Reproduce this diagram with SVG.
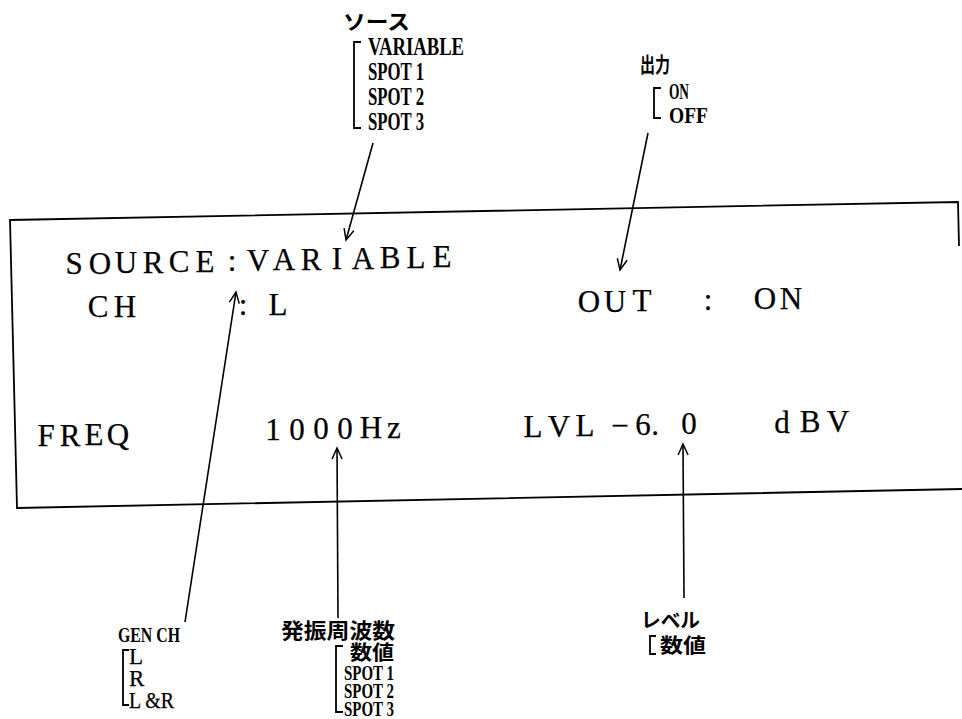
<svg xmlns="http://www.w3.org/2000/svg" width="962" height="719" viewBox="0 0 962 719">
<defs>
<style>
.main{font-family:"Liberation Serif",serif;font-size:31px;fill:#000;stroke:#000;stroke-width:0.25;text-anchor:middle}
.cond{font-family:"Liberation Serif",serif;font-size:25px;font-weight:bold;fill:#000}
.ser{font-family:"Liberation Serif",serif;font-size:23px;fill:#000;stroke:#000;stroke-width:0.25}
.jp{font-family:"Liberation Sans","Noto Sans CJK JP",sans-serif;font-size:21px;font-weight:bold;fill:#000}
.ln{fill:none;stroke:#000;stroke-width:1.6}
.br{fill:none;stroke:#000;stroke-width:1.8}
</style>
<marker id="ah" viewBox="-12 -6 14 12" refX="0" refY="0" markerWidth="14" markerHeight="12" orient="auto" markerUnits="userSpaceOnUse">
<path d="M-11,-5 L0,0 L-11,5" fill="none" stroke="#000" stroke-width="1.5"/>
</marker>
</defs>

<g id="display">
<path class="br" d="M959,246 L958,202 L10,220 L17,508 L962,489"/>
<text class="main" x="74 100 126 153 179 205 232 258 284 311 337 363 390 416 442" y="274 273.5 273 272.5 272 271.5 271 270.5 270 269.5 269 268.5 268 267.5 267">SOURCE:VARIABLE</text>
<text class="main" x="98 125 243 278" y="317 316.5 315 314.5">CH:L</text>
<text class="main" x="589 615 642 708 765 791" y="312 311.5 311 310 309 308.5">OUT:ON</text>
<text class="main" x="46 70 94 118" y="446 445.5 445 444.5">FREQ</text>
<text class="main" x="273 297 321 345 371 394" y="440 439.5 439 438.5 438 437.5">1000Hz</text>
<text class="main" x="533 559 585 620 643 655 689 782 810 838" y="437 436.5 436 435.5 435 435 434 432.5 432 431.5">LVL−6.0dBV</text>
</g>

<g id="source-label">
<text class="jp" x="343" y="29" textLength="67" lengthAdjust="spacingAndGlyphs">ソース</text>
<path class="br" d="M361,42 H354 V128 H361"/>
<text class="cond" x="368" y="55" textLength="96" lengthAdjust="spacingAndGlyphs">VARIABLE</text>
<text class="cond" x="368" y="80" textLength="56" lengthAdjust="spacingAndGlyphs">SPOT 1</text>
<text class="cond" x="368" y="105" textLength="56" lengthAdjust="spacingAndGlyphs">SPOT 2</text>
<text class="cond" x="368" y="130" textLength="56" lengthAdjust="spacingAndGlyphs">SPOT 3</text>
</g>

<g id="output-label">
<text class="jp" x="640" y="72" textLength="30" lengthAdjust="spacingAndGlyphs" style="font-size:21px">出力</text>
<path class="br" d="M661,88 H654 V118 H661"/>
<text class="cond" x="669" y="99" textLength="20" lengthAdjust="spacingAndGlyphs" style="font-size:24px">ON</text>
<text class="cond" x="669" y="123" textLength="39" lengthAdjust="spacingAndGlyphs" style="font-size:24px">OFF</text>
</g>

<g id="gench-label">
<text class="cond" x="118" y="642" textLength="62" lengthAdjust="spacingAndGlyphs" style="font-size:22px">GEN CH</text>
<path class="br" d="M129,650 H123 V705 H129"/>
<text class="ser" x="129" y="664">L</text>
<text class="ser" x="129" y="686">R</text>
<text class="ser" x="129" y="708" textLength="45" lengthAdjust="spacingAndGlyphs">L &amp;R</text>
</g>

<g id="freq-label">
<text class="jp" x="281" y="638" textLength="114" lengthAdjust="spacingAndGlyphs" style="font-size:21px">発振周波数</text>
<path class="br" d="M343,646 H336 V712 H343"/>
<text class="jp" x="350" y="660" textLength="44" lengthAdjust="spacingAndGlyphs" style="font-size:20px">数値</text>
<text class="cond" x="344" y="680" textLength="50" lengthAdjust="spacingAndGlyphs" style="font-size:20px">SPOT 1</text>
<text class="cond" x="344" y="698" textLength="50" lengthAdjust="spacingAndGlyphs" style="font-size:20px">SPOT 2</text>
<text class="cond" x="344" y="716" textLength="50" lengthAdjust="spacingAndGlyphs" style="font-size:20px">SPOT 3</text>
</g>

<g id="level-label">
<text class="jp" x="641" y="628" textLength="59" lengthAdjust="spacingAndGlyphs" style="font-size:20px">レベル</text>
<path class="br" d="M656,636 H650 V654 H656"/>
<text class="jp" x="660" y="653" textLength="46" lengthAdjust="spacingAndGlyphs" style="font-size:20px">数値</text>
</g>

<g id="connectors">
<line class="ln" x1="373" y1="143" x2="346" y2="240" marker-end="url(#ah)"/>
<line class="ln" x1="648" y1="133" x2="620" y2="270" marker-end="url(#ah)"/>
<line class="ln" x1="185" y1="622" x2="236" y2="292" marker-end="url(#ah)"/>
<line class="ln" x1="338" y1="618" x2="337" y2="448" marker-end="url(#ah)"/>
<line class="ln" x1="684" y1="598" x2="683" y2="444" marker-end="url(#ah)"/>
</g>
</svg>
